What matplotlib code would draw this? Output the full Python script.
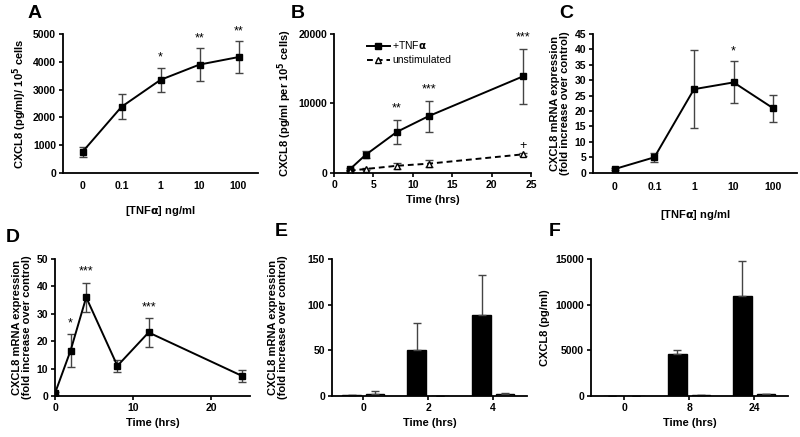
import matplotlib
matplotlib.use("Agg")
import matplotlib.pyplot as plt
import numpy as np

plt.rcParams['font.family'] = ['Liberation Sans', 'DejaVu Sans']
plt.rcParams['font.weight'] = 'bold'
plt.rcParams['axes.labelweight'] = 'bold'
plt.rcParams['mathtext.default'] = 'bf'

# panel A: CXCL8 protein vs TNFa dose
dose_labels = ['0', '0.1', '1', '10', '100']
a_mean = [760, 2380, 3350, 3900, 4170]
a_err = [170, 450, 440, 600, 580]
a_stars = ['', '', '*', '**', '**']

# panel B: time course
b_time = [2, 4, 8, 12, 24]
b_tnf = [480, 2560, 5900, 8150, 13900]
b_tnf_err = [150, 500, 1700, 2250, 4000]
b_uns = [300, 530, 1000, 1300, 2650]
b_uns_err = [100, 150, 400, 550, 250]
b_stars = ['', '', '**', '***', '***']

# panel C: mRNA vs dose
c_mean = [1.2, 5.0, 27.1, 29.3, 20.9]
c_err = [0.3, 1.5, 12.7, 6.8, 4.4]
c_stars = ['', '', '', '*', '']

# panel D: mRNA time course
d_time = [0, 2, 4, 8, 12, 24]
d_mean = [1.0, 16.6, 36.0, 11.0, 23.2, 7.3]
d_err = [0.5, 6.0, 5.3, 2.1, 5.2, 2.3]
d_stars = ['', '*', '***', '', '***', '']

# panel E: bars mRNA
e_labels = ['0', '2', '4']
e_black = [1.0, 50.5, 88.3]
e_black_err = [0, 29.3, 44.7]
e_white = [2.2, 0.5, 1.8]
e_white_err = [2.8, 0, 1.5]

# panel F: bars protein
f_labels = ['0', '8', '24']
f_black = [30, 4650, 10980]
f_black_err = [0, 360, 3770]
f_white = [0, 100, 200]
f_white_err = [0, 0, 0]

W, H = 800, 437
fig = plt.figure(figsize=(8, 4.37), dpi=100)


def add_ax(left, top, right, bottom):
    ax = fig.add_axes([left / W, 1 - bottom / H, (right - left) / W, (bottom - top) / H])
    for s in ['top', 'right']:
        ax.spines[s].set_visible(False)
    for s in ['left', 'bottom']:
        ax.spines[s].set_linewidth(1.3)
    ax.tick_params(direction='out', length=3, width=1.2, labelsize=7.5, pad=2)
    return ax


def stars(ax, xs, tops, labels, dy=7):
    for x, t, lab in zip(xs, tops, labels):
        if lab:
            ax.annotate(lab, (x, t), xytext=(0, dy), textcoords='offset points',
                        ha='center', va='center', fontsize=9, fontweight='normal')


ekw = dict(ecolor='#444444', elinewidth=1.0, capsize=3, capthick=1.0)
lkw = dict(color='black', lw=1.4, marker='s', ms=4)
lbl = 8

# A
ax = add_ax(63, 34, 258, 173)
x = np.arange(len(dose_labels))
ax.errorbar(x, a_mean, yerr=a_err, **lkw, **ekw)
ax.set_xlim(-0.5, 4.5)
ax.set_ylim(0, 5000)
ax.set_yticks(range(0, 5001, 1000))
ax.set_xticks(x, dose_labels)
ax.tick_params(axis='x', length=0, pad=6)
ax.set_xlabel(r'[TNF$\alpha$] ng/ml', fontsize=lbl, labelpad=9)
ax.set_ylabel(r'CXCL8 (pg/ml)/ 10$^5$ cells', fontsize=lbl, labelpad=3)
stars(ax, x, np.add(a_mean, a_err), a_stars)

# B
ax = add_ax(334, 34, 531, 172.7)
h1 = ax.errorbar(b_time, b_tnf, yerr=b_tnf_err, **lkw, **ekw)
h2 = ax.errorbar(b_time, b_uns, yerr=b_uns_err, color='black', lw=1.4, ls=(0, (3, 2)),
                 marker='^', ms=5, mfc='white', mec='black', **ekw)
ax.set_xlim(0, 25)
ax.set_ylim(0, 20000)
ax.set_yticks([0, 10000, 20000])
ax.set_xticks(range(0, 26, 5))
ax.set_xlabel('Time (hrs)', fontsize=lbl, labelpad=4)
ax.set_ylabel(r'CXCL8 (pg/ml per 10$^5$ cells)', fontsize=lbl, labelpad=3)
stars(ax, b_time, np.add(b_tnf, b_tnf_err), b_stars, dy=8)
stars(ax, b_time, np.add(b_uns, b_uns_err), ['', '', '', '', '+'], dy=5)
leg = ax.legend([h1[0], h2[0]], [r'+TNF$\alpha$', 'unstimulated'], loc='upper left',
                bbox_to_anchor=(0.12, 1.03), frameon=False, fontsize=7.5,
                handlelength=2.2, handletextpad=0.2, labelspacing=0.4)
for t in leg.get_texts():
    t.set_fontweight('normal')

# C
ax = add_ax(593, 34, 797, 172.7)
ax.errorbar(x, c_mean, yerr=c_err, **lkw, **ekw)
ax.set_xlim(-0.55, 4.6)
ax.set_ylim(0, 45)
ax.set_yticks(range(0, 46, 5))
ax.set_xticks(x, dose_labels)
ax.tick_params(axis='x', length=0, pad=7)
ax.set_xlabel(r'[TNF$\alpha$] ng/ml', fontsize=lbl, labelpad=11)
ax.set_ylabel('CXCL8 mRNA expression\n(fold increase over control)', fontsize=lbl,
              labelpad=3, linespacing=1.0)
stars(ax, x, np.add(c_mean, c_err), c_stars)

# D
ax = add_ax(55, 259, 250, 396)
ax.errorbar(d_time, d_mean, yerr=d_err, **lkw, **ekw)
ax.set_xlim(0, 25)
ax.set_ylim(0, 50)
ax.set_yticks(range(0, 51, 10))
ax.set_xticks([0, 10, 20])
ax.set_xlabel('Time (hrs)', fontsize=lbl, labelpad=4)
ax.set_ylabel('CXCL8 mRNA expression\n(fold increase over control)', fontsize=lbl,
              labelpad=3, linespacing=1.0)
stars(ax, d_time, np.add(d_mean, d_err), d_stars, dy=8)


def bars(ax, labels, black, berr, white, werr):
    g = np.arange(len(labels))
    bw = 0.28
    ax.bar(g - 0.18, black, bw, color='black', edgecolor='black', lw=1,
           yerr=[np.zeros(len(g)), berr], error_kw=ekw)
    ax.bar(g + 0.18, white, bw, color='white', edgecolor='black', lw=1,
           yerr=[np.zeros(len(g)), werr], error_kw=ekw)
    ax.set_xticks(g, labels)
    ax.set_xlabel('Time (hrs)', fontsize=lbl, labelpad=4)


# E
ax = add_ax(332, 259, 527, 396)
bars(ax, e_labels, e_black, e_black_err, e_white, e_white_err)
ax.set_xlim(-0.48, 2.52)
ax.set_ylim(0, 150)
ax.set_yticks([0, 50, 100, 150])
ax.set_ylabel('CXCL8 mRNA expression\n(fold increase over control)', fontsize=lbl,
              labelpad=14, linespacing=1.0)

# F
ax = add_ax(591, 259, 788, 396)
bars(ax, f_labels, f_black, f_black_err, f_white, f_white_err)
ax.set_xlim(-0.51, 2.52)
ax.set_ylim(0, 15000)
ax.set_yticks([0, 5000, 10000, 15000])
ax.set_ylabel('CXCL8 (pg/ml)', fontsize=lbl, labelpad=4)

# panel letters
for lab, px, py in [('A', 35, 14), ('B', 298, 14), ('C', 566, 14),
                    ('D', 13, 238), ('E', 281, 232), ('F', 555, 232)]:
    fig.text(px / W, 1 - py / H, lab, fontsize=14, fontweight='bold', ha='center', va='center')

fig.savefig('out.png', dpi=100)
